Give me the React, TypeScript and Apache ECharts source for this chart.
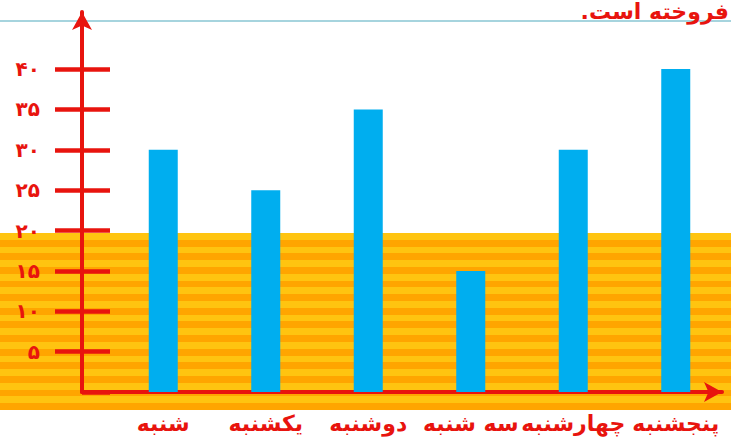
import React, { useEffect, useRef } from 'react';
import * as echarts from 'echarts';

const categories = ['شنبه', 'یکشنبه', 'دوشنبه', 'سه شنبه', 'چهارشنبه', 'پنجشنبه'];
const sales = [30, 25, 35, 15, 30, 40];
const yMin = 0;
const yMax = 40;
const yStep = 5;
const titleText = 'فروخته است.\u200F';

const persianDigits = '۰۱۲۳۴۵۶۷۸۹';
const toPersian = (n: number) => String(n).replace(/\d/g, (d) => persianDigits[+d]);

const RED = '#e8140e';
const BLUE = '#00aeef';
const FONT = '"DejaVu Sans", "Noto Sans", sans-serif';

function stripeStops() {
  const stops: { offset: number; color: string }[] = [];
  const bands = 26;
  const colors = ['#ffc410', '#ffa500'];
  for (let i = 0; i < bands; i++) {
    const c = colors[i % 2];
    stops.push({ offset: i / bands, color: c });
    stops.push({ offset: (i + 1) / bands, color: c });
  }
  return stops;
}

export default function App() {
  const ref = useRef<HTMLDivElement>(null);
  useEffect(() => {
    document.body.style.margin = '0';
    const chart = echarts.init(ref.current!, null, { renderer: 'svg' });
    const tickAxisBase = {
      type: 'value' as const,
      gridIndex: 0,
      min: yMin,
      max: yMax,
      interval: yStep,
      position: 'left' as const,
      offset: 30,
      axisLine: { show: false },
      splitLine: { show: false },
    };
    chart.setOption({
      animation: false,
      backgroundColor: '#ffffff',
      graphic: [
        {
          type: 'rect',
          silent: true,
          z: -10,
          shape: { x: 0, y: 233, width: 731, height: 177 },
          style: { fill: new echarts.graphic.LinearGradient(0, 0, 0, 1, stripeStops()) },
        },
        {
          type: 'line',
          silent: true,
          z: -10,
          shape: { x1: 0, y1: 21, x2: 731, y2: 21 },
          style: { stroke: '#a6d4de', lineWidth: 2 },
        },
        {
          type: 'text',
          x: 729,
          y: 0,
          style: {
            text: titleText,
            fill: RED,
            fontSize: 22,
            fontWeight: 'bold',
            fontFamily: FONT,
            textAlign: 'right',
            textVerticalAlign: 'top',
            align: 'right',
            verticalAlign: 'top',
          },
        },
      ],
      grid: [
        { left: 112, right: 4, top: 69, bottom: 54 },
        { left: 82, right: 9, top: 12, bottom: 54 },
      ],
      xAxis: [
        {
          type: 'category',
          gridIndex: 0,
          data: categories,
          axisLine: { show: false },
          axisTick: { show: false },
          axisLabel: {
            color: RED,
            fontSize: 22,
            fontWeight: 'bold',
            fontFamily: FONT,
            margin: 20,
            interval: 0,
          },
        },
        {
          type: 'value',
          gridIndex: 1,
          min: 0,
          max: 1,
          axisLine: {
            show: true,
            symbol: ['none', 'arrow'],
            symbolSize: [15, 18],
            lineStyle: { color: RED, width: 4 },
          },
          axisTick: { show: false },
          axisLabel: { show: false },
          splitLine: { show: false },
        },
      ],
      yAxis: [
        {
          ...tickAxisBase,
          axisTick: { show: true, length: 27, lineStyle: { color: RED, width: 4.5 } },
          axisLabel: {
            showMinLabel: false,
            color: RED,
            fontSize: 20,
            fontWeight: 'bold',
            fontFamily: FONT,
            margin: 42,
            formatter: (v: number) => toPersian(v),
          },
        },
        {
          ...tickAxisBase,
          axisTick: { show: true, inside: true, length: 28, lineStyle: { color: RED, width: 4.5 } },
          axisLabel: { show: false },
        },
        {
          type: 'value',
          gridIndex: 1,
          min: 0,
          max: 1,
          axisLine: {
            show: true,
            symbol: ['none', 'arrow'],
            symbolSize: [15, 18],
            lineStyle: { color: RED, width: 4 },
          },
          axisTick: { show: false },
          axisLabel: { show: false },
          splitLine: { show: false },
        },
      ],
      series: [
        {
          type: 'bar',
          xAxisIndex: 0,
          yAxisIndex: 0,
          data: sales,
          barWidth: 29,
          itemStyle: { color: BLUE },
        },
      ],
    });
    return () => chart.dispose();
  }, []);
  return <div ref={ref} style={{ width: 731, height: 446 }} />;
}
